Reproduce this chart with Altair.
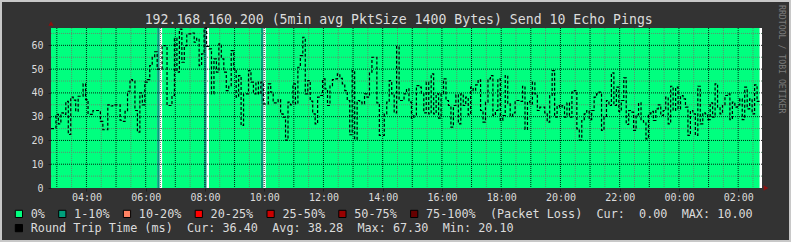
import altair as alt
import pandas as pd

# ---------------- data ----------------
TITLE = "192.168.160.200 (5min avg PktSize 1400 Bytes) Send 10 Echo Pings"
WATERMARK = "RRDTOOL / TOBI OETIKER"

START = "2024-03-05 02:48:15"   # left edge of the plot (UTC)
STEP_MINUTES = 5
N_BINS = 288

# median round trip time per 5-minute step (ms); None = no data
rtt_ms = [
    25, 25, 31, 27, 31.6, 31, 36.4, 22.5, 38.2, 37, 32.3, 38.6,
    38.6, 43.8, 37.2, 31, 31, 32.6, 32.6, 32.6, 28, 24.5, 24.5, 35,
    34.5, 35, 35, 35, 28.5, 28, 32.2, 40.7, 45.6, 45, 32.6, 23.5,
    40, 35, 44.5, 45.6, 51.5, 55, 57.3, 50, 50, 59.9, 59.9, 34.7,
    34.7, 38.9, 62.9, 48.7, 66.8, 52.9, 59.9, 64.8, 64.8, 65.2, 61.3, 62.9,
    51.5, 56.4, 67.3, 59.6, 58.5, 39.6, 54.3, 48.7, 60.6, 54.3, 48.7, 41,
    43.1, 57.8, 50, 38.2, 47.3, 26.3, 39.6, 39.6, 49.4, 44.5, 39.6, 44.5,
    39.6, 44.5, 35.4, 35.4, 43.8, 40.3, 35.8, 35.8, 37.2, 31.2, 29.8, 20.1,
    36.1, 35, 43.8, 35.4, 50.8, 55.7, 63.4, 39.6, 45.2, 36.5, 31.2, 27,
    38.2, 38.9, 45.9, 41.7, 34.7, 43.1, 45.6, 45.9, 48, 46.1, 43.8, 41,
    36.8, 22.4, 49.4, 20.5, 36.8, 36.1, 35.4, 39.6, 38.2, 48.7, 55, 55,
    35.8, 22.1, 22.1, 31.2, 36.1, 45.2, 39.6, 31.6, 59.6, 36.8, 36.8, 39.6,
    41.7, 36.1, 29.4, 30.5, 43.1, 42.4, 39.6, 31.6, 44.5, 31.2, 48, 31.2,
    39.6, 29.4, 39.6, 45.9, 36.8, 34.7, 25.6, 34.7, 39.2, 27, 39.6, 34.7,
    38.2, 30.8, 42.4, 41, 43.4, 45.5, 32.6, 27.7, 36.1, 45.9, 47.3, 30.5,
    32.6, 45.9, 28.4, 30.5, 47.3, 35.4, 30.2, 31.6, 36.8, 36.8, 36.4, 42.8,
    24.6, 36.4, 35.4, 44.5, 39.6, 32.6, 34, 34, 31.6, 27.7, 38.9, 49.4,
    29.8, 34.7, 34, 34.7, 29.8, 35.8, 29.8, 40.3, 41, 24.9, 20.2, 28.4,
    31.2, 32.6, 28.8, 32.6, 38.2, 39.6, 40.3, 24.2, 29.8, 36.8, 34.7, 48.4,
    34.7, 42.4, 32.2, 36.8, 46.3, 26.7, 32.6, 31.9, 24.2, 30.8, 35.8, 28.4,
    27.7, 20.7, 31.2, 32.2, 28.4, 33.3, 35, 30.5, 32.6, 38.2, 27, 42.8,
    32.6, 42.4, 33.3, 38.9, 37.5, 34, 22.1, 32.6, 31.2, 22.1, 42.8, 27,
    31.6, 31.2, 28.8, 35.8, 29.8, 43.8, 34, 31.2, 34.7, 38.9, 39.6, 28.8,
    36.1, 34, 35, 37.5, 28.8, 42.4, 33.3, 37.5, 31.2, 43.4, 36.4, None,
]

# packet loss (%) per step: 0 everywhere except these; some steps have no data
loss_events = {43: 10.0, 62: 10.0, 85: 10.0}
no_data_bins = [44, 63, 86, 287]

loss_labels = ["0%", "1-10%", "10-20%", "20-25%", "25-50%", "50-75%", "75-100%"]
loss_upper = [0, 10, 20, 25, 50, 75, 100]
loss_colors = ["#00ff7f", "#00a07c", "#ff8262", "#ff0000", "#cc0000", "#990000", "#660000"]

rtt_label = "Round Trip Time (ms)"
rtt_stats = ["Cur: 36.40", "Avg: 38.28", "Max: 67.30", "Min: 20.10"]
loss_tail = "(Packet Loss)  Cur:  0.00  MAX: 10.00"

Y_MAX = 67.3
y_label_values = [0, 10, 20, 30, 40, 50, 60]
y_major_grid = [10, 20, 30, 40, 50, 60]
y_minor_grid = [5, 15, 25, 35, 45, 55, 65]

# ---------------- layout / style ----------------
W, H = 711, 160
PAD_L, PAD_T = 51, 28
BG = "#333333"
TXT = "#dcdcdc"
FONT = "DejaVu Sans Mono"
NB = "\u00a0"


def keep_spaces(s):
    return s.replace(" ", NB)


# ---------------- derived tables ----------------
start_ts = pd.Timestamp(START, tz="UTC")
end_ts = start_ts + pd.Timedelta(minutes=STEP_MINUTES * N_BINS)
to_ms = lambda ts: int(ts.value // 10**6)
t = [to_ms(start_ts + pd.Timedelta(minutes=STEP_MINUTES * i)) for i in range(N_BINS + 1)]
start_ms, end_ms = t[0], t[-1]


def loss_cat(i):
    if i in no_data_bins:
        return None
    v = loss_events.get(i, 0.0)
    for lab, up in zip(loss_labels, loss_upper):
        if v <= up:
            return lab
    return loss_labels[-1]


runs, cur, s = [], None, 0
for i in range(N_BINS):
    c = loss_cat(i)
    if c != cur:
        if cur is not None:
            runs.append((t[s], t[i], cur))
        cur, s = c, i
if cur is not None:
    runs.append((t[s], t[N_BINS], cur))
loss_df = pd.DataFrame(runs, columns=["t0", "t1", "loss"])

pts = [(t[i], v) for i, v in enumerate(rtt_ms) if v is not None]
last_i = max(i for i, v in enumerate(rtt_ms) if v is not None)
pts.append((t[last_i + 1], rtt_ms[last_i]))
line_df = pd.DataFrame(pts, columns=["t", "rtt"])

hours = pd.date_range(start_ts.ceil("h"), end_ts, freq="h")
halves = [h for h in pd.date_range(start_ts.ceil("30min"), end_ts, freq="30min") if h.minute == 30]
label_hours = [to_ms(h) for h in hours if h.hour % 2 == 0]
vmajor_df = pd.DataFrame({"t": [to_ms(h) for h in hours]})
vminor_df = pd.DataFrame({"t": [to_ms(h) for h in halves]})
hmajor_df = pd.DataFrame({"v": y_major_grid})
hminor_df = pd.DataFrame({"v": y_minor_grid})

xscale = alt.Scale(type="utc", domain=[start_ms, end_ms])
yscale = alt.Scale(domain=[0, Y_MAX])

XAXIS = alt.Axis(
    values=label_hours, format="%H:%M", title=None, grid=False, domain=False,
    tickSize=3, tickColor="#1e1e1e", labelPadding=9, labelBaseline="alphabetic",
    labelFont=FONT, labelFontSize=10, labelColor=TXT, labelFlush=False, labelOverlap=False)
YAXIS = alt.Axis(
    values=y_label_values, title=None, grid=False, domain=False,
    tickSize=3, tickColor="#1e1e1e", labelPadding=5,
    labelFont=FONT, labelFontSize=10, labelColor=TXT)

# ---------------- layers ----------------
loss_layer = alt.Chart(loss_df).mark_rect().encode(
    x=alt.X("t0:T", scale=xscale, axis=XAXIS),
    x2="t1:T",
    y=alt.value(0),
    y2=alt.value(H),
    color=alt.Color("loss:N", scale=alt.Scale(domain=loss_labels, range=loss_colors), legend=None),
)

vminor = alt.Chart(vminor_df).mark_rule(color="#5f8f6f", strokeWidth=1, strokeDash=[1, 1]).encode(
    x=alt.X("t:T", scale=xscale, axis=XAXIS))
vmajor = alt.Chart(vmajor_df).mark_rule(color="#000000", strokeWidth=1, strokeDash=[1, 1], opacity=0.85).encode(
    x=alt.X("t:T", scale=xscale, axis=XAXIS))
hminor = alt.Chart(hminor_df).mark_rule(color="#5f8f6f", strokeWidth=1, strokeDash=[1, 1]).encode(
    y=alt.Y("v:Q", scale=yscale, axis=YAXIS))
hmajor = alt.Chart(hmajor_df).mark_rule(color="#000000", strokeWidth=1, strokeDash=[1, 1], opacity=0.85).encode(
    y=alt.Y("v:Q", scale=yscale, axis=YAXIS))

line = alt.Chart(line_df).mark_line(
    interpolate="step-after", color="#000000", strokeWidth=1.2, strokeDash=[3, 2]
).encode(
    x=alt.X("t:T", scale=xscale, axis=XAXIS),
    y=alt.Y("rtt:Q", scale=yscale, axis=YAXIS),
)

# title, watermark
title = alt.Chart(pd.DataFrame({"s": [TITLE]})).mark_text(
    font=FONT, fontSize=13.2, color=TXT, align="center", baseline="alphabetic"
).encode(text="s:N", x=alt.value(398.7 - PAD_L), y=alt.value(24 - PAD_T))

wm = alt.Chart(pd.DataFrame({"s": [keep_spaces(WATERMARK)]})).mark_text(
    font=FONT, fontSize=8.2, color="#7c7c7c", align="left", baseline="middle", angle=90
).encode(text="s:N", x=alt.value(781 - PAD_L), y=alt.value(5 - PAD_T))

# legend row 1 (packet loss)
CW = 7.1
tx = [30.7]
for lab in loss_labels[:-1]:
    tx.append(tx[-1] + len(lab) * CW + 29.2)
leg1 = pd.DataFrame({"lab": loss_labels, "col": loss_colors,
                     "tx": [x - PAD_L for x in tx], "bx": [x - 11.8 - PAD_L for x in tx]})
row1_y, row2_y = 217.5 - PAD_T, 231.6 - PAD_T
box1_y, box2_y = 213.9 - PAD_T, 228.1 - PAD_T

boxes = alt.Chart(leg1).mark_square(size=52, stroke="#000000", strokeWidth=1, opacity=1).encode(
    x=alt.X("bx:Q", scale=None), y=alt.value(box1_y), fill=alt.Fill("col:N", scale=None))
labels1 = alt.Chart(leg1).mark_text(font=FONT, fontSize=11.8, color=TXT, align="left",
                                    baseline="alphabetic").encode(
    x=alt.X("tx:Q", scale=None), y=alt.value(row1_y), text="lab:N")
tail_x = tx[-1] + (len(loss_labels[-1]) + 2) * CW
tail = alt.Chart(pd.DataFrame({"s": [keep_spaces(loss_tail)]})).mark_text(
    font=FONT, fontSize=11.8, color=TXT, align="left", baseline="alphabetic"
).encode(text="s:N", x=alt.value(tail_x - PAD_L), y=alt.value(row1_y))

# legend row 2 (rtt)
row2_text = keep_spaces(rtt_label + "  " + "  ".join(rtt_stats))
row2 = alt.Chart(pd.DataFrame({"s": [row2_text]})).mark_text(
    font=FONT, fontSize=11.8, color=TXT, align="left", baseline="alphabetic"
).encode(text="s:N", x=alt.value(tx[0] - PAD_L), y=alt.value(row2_y))
box2 = alt.Chart(pd.DataFrame({"s": [rtt_label]})).mark_square(
    size=52, color="#000000", opacity=1, stroke="#000000", strokeWidth=1
).encode(x=alt.value(tx[0] - 11.8 - PAD_L), y=alt.value(box2_y))

# axis arrows
arrow_up = alt.Chart(pd.DataFrame({"s": ["y"]})).mark_point(
    shape="triangle-up", filled=True, color="#8b1010", size=28, opacity=1
).encode(x=alt.value(0), y=alt.value(-4.5))
arrow_right = alt.Chart(pd.DataFrame({"s": ["x"]})).mark_point(
    shape="triangle-right", filled=True, color="#8b1010", size=28, opacity=1
).encode(x=alt.value(W + 4), y=alt.value(H))

# outer frame
frame = alt.Chart(pd.DataFrame({"s": ["f"]})).mark_rect(
    fill=None, stroke="#c8c8c8", strokeWidth=2
).encode(x=alt.value(1 - PAD_L), x2=alt.value(790 - PAD_L),
         y=alt.value(1 - PAD_T), y2=alt.value(241 - PAD_T))

chart = alt.layer(
    loss_layer, vminor, hminor, vmajor, hmajor, line,
    title, wm, boxes, labels1, tail, row2, box2, arrow_up, arrow_right, frame,
).properties(
    width=W, height=H, background=BG,
    padding={"left": PAD_L, "top": PAD_T, "right": 791 - PAD_L - W, "bottom": 242 - PAD_T - H},
    autosize=alt.AutoSizeParams(type="none"),
).configure_view(strokeWidth=0, fill="#ffffff")

chart.save("out.html", embed_options={"renderer": "svg", "actions": False})
